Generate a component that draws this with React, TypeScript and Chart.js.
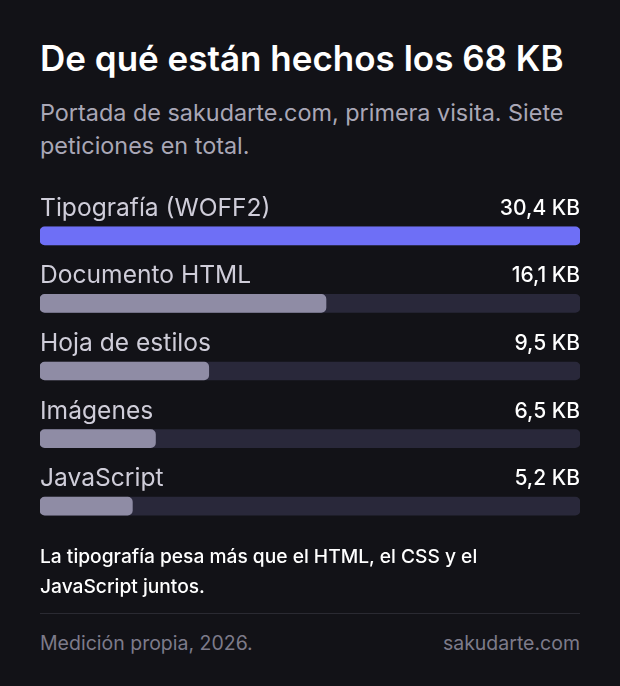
import React, { useEffect, useRef } from "react";
import { Chart, registerables } from "chart.js";

Chart.register(...registerables);

const categories = ["Tipografía (WOFF2)", "Documento HTML", "Hoja de estilos", "Imágenes", "JavaScript"];
const sizesKB = [30.4, 16.1, 9.5, 6.5, 5.2];
const scaleMaxKB = 30.4;
const highlightIndex = 0;

const BG = "#121217";
const ACCENT = "#6e6ff6";
const MUTED_BAR = "#8f8ca5";
const TRACK = "#29283a";
const FONT = "Inter, 'Noto Sans', sans-serif";

const fmt = (v: number) => v.toFixed(1).replace(".", ",") + " KB";

export default function App() {
  const ref = useRef<HTMLCanvasElement | null>(null);

  useEffect(() => {
    document.body.style.margin = "0";
    document.body.style.background = BG;
    const canvas = ref.current;
    if (!canvas) return;

    const labelPlugin = {
      id: "rowLabels",
      afterDatasetsDraw(chart: any) {
        const ctx = chart.ctx;
        const meta = chart.getDatasetMeta(0);
        const area = chart.chartArea;
        ctx.save();
        meta.data.forEach((bar: any, i: number) => {
          const top = bar.y - 9;
          const baseY = top - 11;
          ctx.textBaseline = "alphabetic";
          ctx.font = `400 24.6px ${FONT}`;
          ctx.fillStyle = "#cfcdd9";
          ctx.textAlign = "left";
          ctx.fillText(categories[i], area.left, baseY);
          ctx.font = `500 21px ${FONT}`;
          ctx.fillStyle = "#ffffff";
          ctx.textAlign = "right";
          ctx.fillText(fmt(sizesKB[i]), area.right, baseY - 1);
        });
        ctx.restore();
      },
    };

    const chart = new Chart(canvas, {
      type: "bar",
      data: {
        labels: categories,
        datasets: [
          {
            label: "KB",
            data: sizesKB,
            backgroundColor: sizesKB.map((_, i) => (i === highlightIndex ? ACCENT : MUTED_BAR)),
            borderRadius: 5,
            borderSkipped: false,
            barThickness: 18,
            grouped: false,
            order: 0,
          },
          {
            label: "track",
            data: categories.map(() => scaleMaxKB),
            backgroundColor: TRACK,
            borderRadius: 5,
            borderSkipped: false,
            barThickness: 18,
            grouped: false,
            order: 1,
          },
        ],
      },
      options: {
        indexAxis: "y",
        responsive: false,
        animation: false,
        events: [],
        layout: { padding: { top: 16, bottom: 6, left: 0, right: 0 } },
        plugins: { legend: { display: false }, tooltip: { enabled: false } },
        scales: {
          x: { display: false, min: 0, max: scaleMaxKB },
          y: { display: false, offset: true },
        },
      },
      plugins: [labelPlugin],
    });
    return () => chart.destroy();
  }, []);

  return (
    <div
      style={{
        position: "absolute",
        left: 0,
        top: 0,
        width: 620,
        height: 686,
        background: BG,
        fontFamily: FONT,
        overflow: "hidden",
      }}
    >
      <div
        style={{
          position: "absolute",
          left: 40,
          top: 35,
          fontSize: 35,
          fontWeight: 600,
          color: "#ffffff",
          lineHeight: "46px",
          whiteSpace: "nowrap",
        }}
      >
        De qué están hechos los 68 KB
      </div>
      <div
        style={{
          position: "absolute",
          left: 40,
          top: 96,
          width: 548,
          fontSize: 23.4,
          fontWeight: 400,
          color: "#a9a7b6",
          lineHeight: "33px",
        }}
      >
        Portada de sakudarte.com, primera visita. Siete peticiones en total.
      </div>
      <canvas
        ref={ref}
        width={540}
        height={360}
        style={{ position: "absolute", left: 40, top: 186, width: 540, height: 360 }}
      />
      <div
        style={{
          position: "absolute",
          left: 40,
          top: 541,
          width: 480,
          fontSize: 19.2,
          fontWeight: 500,
          color: "#ffffff",
          lineHeight: "30px",
        }}
      >
        La tipografía pesa más que el HTML, el CSS y el JavaScript juntos.
      </div>
      <div
        style={{
          position: "absolute",
          left: 40,
          top: 613,
          width: 540,
          height: 1,
          background: "#2a2a32",
        }}
      />
      <div
        style={{
          position: "absolute",
          left: 40,
          top: 630,
          width: 540,
          display: "flex",
          justifyContent: "space-between",
          fontSize: 19.5,
          color: "#7d7b8a",
          lineHeight: "27px",
        }}
      >
        <span>Medición propia, 2026.</span>
        <span>sakudarte.com</span>
      </div>
    </div>
  );
}
